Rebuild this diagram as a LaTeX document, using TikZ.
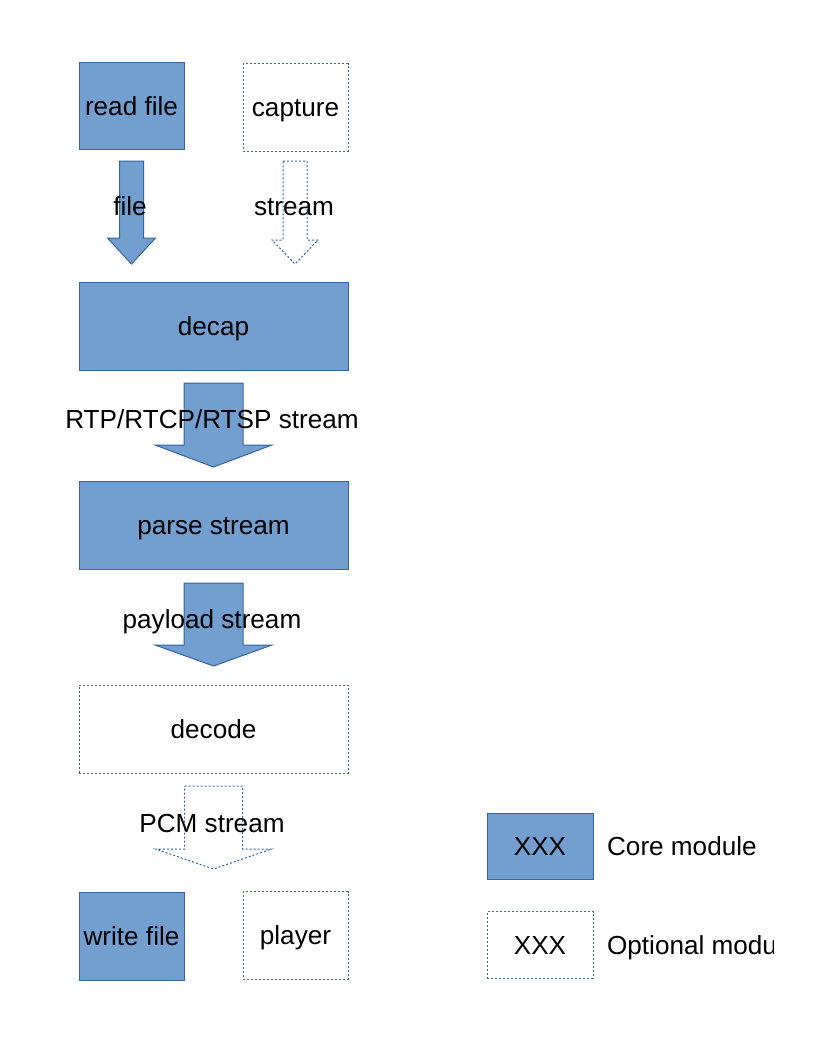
\documentclass[tikz,border=0pt]{standalone}
\usepackage{fontspec}
\setmainfont{Liberation Sans}
\usepackage{xcolor}
\usetikzlibrary{positioning}

\definecolor{coreblue}{HTML}{729FCF}
\definecolor{lineblue}{HTML}{3465A4}

% block arrow: style, centre x, top, head top, tip, half shaft, half head
\newcommand{\flowarrow}[7]{%
  \draw[#1] (#2-#6,#3) -- (#2+#6,#3) -- (#2+#6,#4) -- (#2+#7,#4) -- (#2,#5)
    -- (#2-#7,#4) -- (#2-#6,#4) -- cycle;}

\tikzset{
  core/.style={rectangle, draw=lineblue, fill=coreblue, line width=0.75pt, inner sep=0pt},
  optional/.style={rectangle, draw=lineblue, line width=0.75pt, dash pattern=on 1.5pt off 1.5pt, inner sep=0pt},
  small/.style={minimum width=78.75pt, minimum height=65.5pt},
  wide/.style={minimum width=201.75pt, minimum height=66pt},
  legend/.style={minimum width=79.5pt, minimum height=50pt},
  lbl/.style={inner sep=0pt}
}

\begin{document}
\begin{tikzpicture}[x=0.75pt, y=-0.75pt, every node/.style={font=\fontsize{19.6}{23}\selectfont, text height=17.7pt, text depth=4.2pt}]
\useasboundingbox (0,0) rectangle (816,1056);

\node[core, small] (readfile) at (131.5,106) {read file};
\node[optional, small] (capture) at (295.5,107.5) {capture};
\node[core, wide] (decap) at (213.5,326) {decap};
\node[core, wide] (parse) at (213.5,525) {parse stream};
\node[optional, wide] (decode) at (213.5,729) {decode};
\node[core, small] (writefile) at (131.5,936.5) {write file};
\node[optional, small] (player) at (295.5,935.5) {player};

\flowarrow{core}{131.5}{161}{238}{264}{12}{24}
\flowarrow{optional}{295}{161}{240}{264}{12}{23}
\flowarrow{core}{213.5}{383}{445}{467}{29.5}{58.5}
\flowarrow{core}{213.5}{583}{645}{666}{29.5}{58.5}
\flowarrow{optional}{213.5}{786}{849}{869}{29}{58}

\node[lbl] (filelbl) at (130,206) {file};
\node[lbl] (streamlbl) at (294,206) {stream};
\node[lbl] (rtplbl) at (212,419) {RTP/RTCP/RTSP stream};
\node[lbl] (payloadlbl) at (212,619) {payload stream};
\node[lbl] (pcmlbl) at (212,823) {PCM stream};

% legend
\node[core, legend] (corekey) at (540,846.5) {XXX};
\node[optional, legend] (optkey) at (540,945) {XXX};
\node[lbl, right=10pt of corekey] (coretxt) {Core module};
\begin{scope}
\clip (600,900) rectangle (773,990);
\node[lbl, right=10pt of optkey] (opttxt) {Optional module};
\end{scope}
\end{tikzpicture}
\end{document}
